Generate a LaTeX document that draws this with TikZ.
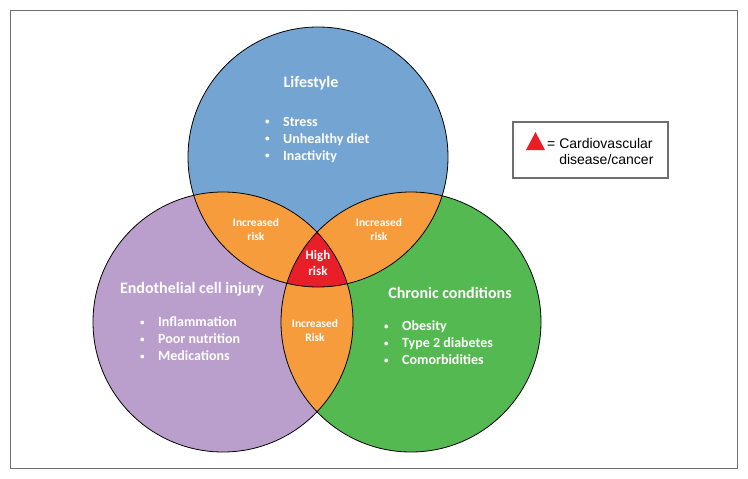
\documentclass[tikz,border=0pt]{standalone}
\usepackage{fontspec}
\setmainfont{Carlito}
\newfontfamily\legendfont{Liberation Sans}
\definecolor{lifeblue}{RGB}{116,164,210}
\definecolor{endopurple}{RGB}{186,158,204}
\definecolor{chrongreen}{RGB}{84,185,80}
\definecolor{riskorange}{RGB}{246,156,60}
\definecolor{highred}{RGB}{232,30,40}
\definecolor{framegray}{RGB}{110,110,110}
\newcommand{\bulletitem}[1]{\makebox[19pt][l]{\hspace{1pt}\raisebox{1.8pt}{\fontsize{9}{9}\selectfont\textbullet}}#1}
\def\vennrad{130pt}
\begin{document}
\begin{tikzpicture}[
    x=1pt, y=-1pt,
    ring/.style={draw=black, line width=0.8pt},
    title/.style={text=white, font=\bfseries\fontsize{16}{19}\selectfont, inner sep=0pt},
    items/.style={text=white, font=\bfseries\fontsize{14}{17}\selectfont, align=left, anchor=west, inner sep=0pt},
    risk/.style={text=white, font=\bfseries\fontsize{11.5}{14}\selectfont, align=center, inner sep=0pt},
    legendbox/.style={draw=framegray, line width=1.2pt, fill=white}
]
    \useasboundingbox (0,0) rectangle (748,479);
    % Frame
    \draw [draw=framegray, line width=1pt] (10,10) rectangle (737,468);

    % Circle centres
    \coordinate (life) at (318,157);
    \coordinate (endo) at (223,322);
    \coordinate (chron) at (411,322);

    % Circles
    \fill [lifeblue] (life) circle [radius=\vennrad];
    \fill [endopurple] (endo) circle [radius=\vennrad];
    \fill [chrongreen] (chron) circle [radius=\vennrad];

    % Overlaps
    \begin{scope}
        \clip (life) circle [radius=\vennrad];
        \fill [riskorange] (endo) circle [radius=\vennrad];
        \fill [riskorange] (chron) circle [radius=\vennrad];
    \end{scope}
    \begin{scope}
        \clip (endo) circle [radius=\vennrad];
        \fill [riskorange] (chron) circle [radius=\vennrad];
        \clip (chron) circle [radius=\vennrad];
        \fill [highred] (life) circle [radius=\vennrad];
    \end{scope}

    % Outlines
    \draw [ring] (life) circle [radius=\vennrad];
    \draw [ring] (endo) circle [radius=\vennrad];
    \draw [ring] (chron) circle [radius=\vennrad];

    % Titles
    \node [title] (t-life) at (311,83) {Lifestyle};
    \node [title] (t-endo) at (192,289) {Endothelial cell injury};
    \node [title] (t-chron) at (450,293) {Chronic conditions};

    % Factor lists
    \node [items] (l-life) at (264,140) {\bulletitem{Stress}\\\bulletitem{Unhealthy diet}\\\bulletitem{Inactivity}};
    \node [items] (l-endo) at (139,339) {\bulletitem{Inflammation}\\\bulletitem{Poor nutrition}\\\bulletitem{Medications}};
    \node [items] (l-chron) at (383,343) {\bulletitem{Obesity}\\\bulletitem{Type 2 diabetes}\\\bulletitem{Comorbidities}};

    % Risk labels
    \node [risk] (r-left) at (256,230) {Increased\\risk};
    \node [risk] (r-right) at (379,230) {Increased\\risk};
    \node [risk] (r-bottom) at (315,331) {Increased\\Risk};
    \node [risk, font=\bfseries\fontsize{13}{16}\selectfont] (r-high) at (318,263) {High\\risk};

    % Legend
    \draw [legendbox] (513,122) rectangle (668,178);
    \fill [highred] (526,150) -- (545,150) -- (535.5,132) -- cycle;
    \node [font=\legendfont\fontsize{14}{16}\selectfont, align=left, anchor=west, inner sep=0pt] (legend) at (547,151) {= Cardiovascular\\\hphantom{= }disease/cancer};
\end{tikzpicture}
\end{document}
